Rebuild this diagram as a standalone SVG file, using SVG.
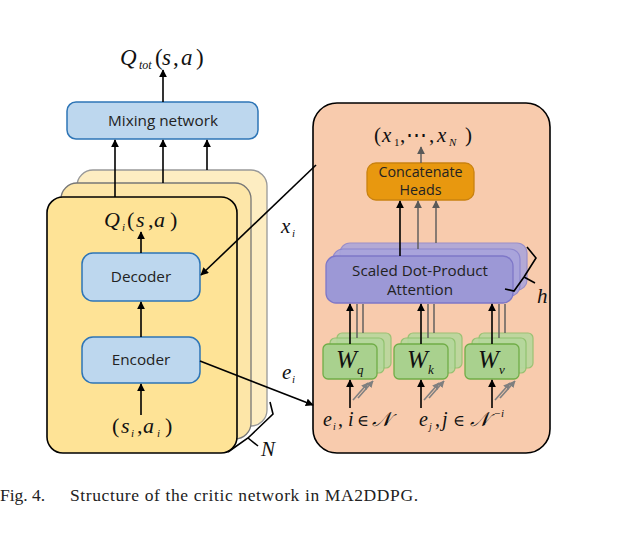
<svg xmlns="http://www.w3.org/2000/svg" width="620" height="536" viewBox="0 0 620 536">
<defs>
<marker id="ab" viewBox="0 0 10 10" refX="9" refY="5" markerWidth="8" markerHeight="8" markerUnits="userSpaceOnUse" orient="auto"><path d="M0,0 L10,5 L0,10 z" fill="#000"/></marker>
<marker id="ag" viewBox="0 0 10 10" refX="9" refY="5" markerWidth="8" markerHeight="8" markerUnits="userSpaceOnUse" orient="auto"><path d="M0,0 L10,5 L0,10 z" fill="#595959"/></marker>
<marker id="ag2" viewBox="0 0 10 10" refX="9" refY="5" markerWidth="7" markerHeight="7" markerUnits="userSpaceOnUse" orient="auto"><path d="M0,0 L10,5 L0,10 z" fill="#7f7f7f"/></marker>
<style>
.sans{font-family:"Open Sans","Noto Sans","DejaVu Sans",sans-serif;fill:#222;}
.math{font-family:"Liberation Serif","DejaVu Serif",serif;font-style:italic;fill:#111;}
.rm{font-style:normal;}
.blue{fill:#BDD7EE;stroke:#2E75B6;stroke-width:1.5;}
.green{fill:#A9D18E;stroke:#70AD47;stroke-width:1.3;}
.greenb{fill:#B5D89C;stroke:#8CC06A;stroke-width:1.2;}
.lav{fill:#9C98D6;stroke:#7E77C8;stroke-width:1.3;}
.lavb{fill:#A8A4DC;stroke:#8A84CE;stroke-width:1.2;}
.ln{stroke:#000;stroke-width:1.6;fill:none;}
.lg{stroke:#595959;stroke-width:1.4;fill:none;}
.lgd{stroke:#808080;stroke-width:1.6;fill:none;}
</style>
</defs>
<rect width="620" height="536" fill="#fff"/>

<g id="critic-cards">
<rect x="77" y="170" width="190" height="256" rx="16" fill="#FDEDC2" stroke="#999" stroke-width="1.3"/>
<rect x="61" y="183" width="190" height="256" rx="16" fill="#FDE6A8" stroke="#777" stroke-width="1.3"/>
<rect x="47" y="197" width="190" height="256" rx="16" fill="#FEE396" stroke="#000" stroke-width="1.6"/>
</g>

<g id="n-brace">
<path d="M270,402 L273,414 L248,438 L228,452" class="ln" stroke-width="1.4"/>
<path d="M248,438 L258,446" class="ln" stroke-width="1.4"/>
<text class="math" x="261" y="456" font-size="21">N</text>
</g>

<g id="q-tot" class="math" font-size="23">
<text x="120" y="65">Q</text>
<text x="139" y="69" font-size="12">tot</text>
<text x="155" y="65" class="rm">(</text>
<text x="162" y="65">s</text>
<text x="173" y="65" class="rm">,</text>
<text x="181" y="65">a</text>
<text x="196" y="65" class="rm">)</text>
</g>

<g id="mixing-network">
<rect class="blue" x="67" y="102" width="191" height="37" rx="9"/>
<text class="sans" x="163" y="126" font-size="15.3" text-anchor="middle">Mixing network</text>
</g>

<g id="q-i" class="math" font-size="22">
<text x="104" y="227">Q</text>
<text x="122" y="231" font-size="11">i</text>
<text x="127" y="227" class="rm">(</text>
<text x="136" y="227">s</text>
<text x="148" y="227" class="rm">,</text>
<text x="154" y="227">a</text>
<text x="170" y="227" class="rm">)</text>
</g>

<g id="decoder">
<rect class="blue" x="82" y="253" width="118" height="48" rx="11"/>
<text class="sans" x="141" y="282" font-size="15.3" text-anchor="middle">Decoder</text>
</g>

<g id="encoder">
<rect class="blue" x="82" y="337" width="118" height="46" rx="11"/>
<text class="sans" x="141" y="365" font-size="15.3" text-anchor="middle">Encoder</text>
</g>

<g id="s-a-input" class="math" font-size="22">
<text x="112" y="433" class="rm">(</text>
<text x="121" y="433">s</text>
<text x="131" y="437" font-size="11">i</text>
<text x="137" y="433" class="rm">,</text>
<text x="143" y="433">a</text>
<text x="157" y="437" font-size="11">i</text>
<text x="165" y="433" class="rm">)</text>
</g>

<g id="attention-panel">
<rect x="313" y="103" width="237" height="350" rx="24" fill="#F8CBAD" stroke="#000" stroke-width="1.6"/>
</g>

<g id="x-output" class="math" font-size="21">
<text x="374" y="142" class="rm">(</text>
<text x="382" y="142">x</text>
<text x="394" y="146" font-size="11" class="rm">1</text>
<text x="400" y="142" class="rm">,</text>
<text x="406" y="142" class="rm">⋯</text>
<text x="429" y="142" class="rm">,</text>
<text x="437" y="142">x</text>
<text x="449" y="146" font-size="11">N</text>
<text x="465" y="142" class="rm">)</text>
</g>

<g id="concatenate-heads">
<rect x="367" y="163" width="107" height="37" rx="9" fill="#E8980F" stroke="#C98210" stroke-width="1.3"/>
<text class="sans" x="420.5" y="177" font-size="14.3" text-anchor="middle">Concatenate</text>
<text class="sans" x="420.5" y="195" font-size="14.3" text-anchor="middle">Heads</text>
</g>

<g id="scaled-dot-product-attention">
<rect class="lavb" x="340" y="243" width="187" height="47" rx="10" opacity="0.85"/>
<rect class="lavb" x="333" y="249" width="187" height="47" rx="10" opacity="0.9"/>
<rect class="lav" x="326" y="256" width="187" height="47" rx="10"/>
<text class="sans" x="420" y="276" font-size="15.2" text-anchor="middle">Scaled Dot-Product</text>
<text class="sans" x="420" y="295" font-size="15.2" text-anchor="middle">Attention</text>
</g>

<g id="h-brace">
<path d="M527,247 L536,258 L524,277 L514,291 L505,289" class="ln" stroke-width="1.4"/>
<path d="M524,277 L535,283" class="ln" stroke-width="1.4"/>
<text class="math" x="537" y="303" font-size="21">h</text>
</g>

<g id="w-q">
<rect class="greenb" x="337" y="333" width="54" height="35" rx="5" opacity="0.85"/>
<rect class="greenb" x="330" y="338" width="54" height="35" rx="5" opacity="0.9"/>
<rect class="green" x="323" y="344" width="54" height="35" rx="5"/>
<text class="math" x="336" y="368" font-size="25">W</text>
<text class="math" x="357" y="374" font-size="13">q</text>
</g>

<g id="w-k">
<rect class="greenb" x="408" y="333" width="54" height="35" rx="5" opacity="0.85"/>
<rect class="greenb" x="401" y="338" width="54" height="35" rx="5" opacity="0.9"/>
<rect class="green" x="394" y="344" width="54" height="35" rx="5"/>
<text class="math" x="407" y="368" font-size="25">W</text>
<text class="math" x="428" y="374" font-size="13">k</text>
</g>

<g id="w-v">
<rect class="greenb" x="479" y="333" width="54" height="35" rx="5" opacity="0.85"/>
<rect class="greenb" x="472" y="338" width="54" height="35" rx="5" opacity="0.9"/>
<rect class="green" x="465" y="344" width="54" height="35" rx="5"/>
<text class="math" x="478" y="368" font-size="25">W</text>
<text class="math" x="499" y="374" font-size="13">v</text>
</g>

<g id="e-labels" class="math" font-size="20">
<text x="323" y="426">e</text>
<text x="333" y="430" font-size="10">i</text>
<text x="338" y="426" class="rm">,</text>
<text x="348" y="426">i</text>
<text x="357" y="426" class="rm" font-family="DejaVu Serif, serif" font-size="16">∈</text>
<text x="372" y="426">𝒩</text>
<text x="419" y="426">e</text>
<text x="429" y="430" font-size="10">j</text>
<text x="435" y="426" class="rm">,</text>
<text x="442" y="426">j</text>
<text x="453" y="426" class="rm" font-family="DejaVu Serif, serif" font-size="16">∈</text>
<text x="470" y="426">𝒩</text>
<text x="494" y="417" font-size="11" class="rm">−</text>
<text x="501" y="417" font-size="11">i</text>
</g>

<g id="x-i-label" class="math" font-size="21">
<text x="281" y="233">x</text>
<text x="292" y="237" font-size="11">i</text>
</g>
<g id="e-i-label" class="math" font-size="21">
<text x="282" y="379">e</text>
<text x="292" y="383" font-size="11">i</text>
</g>

<g id="connectors">
<line class="ln" x1="163" y1="102" x2="163" y2="70" marker-end="url(#ab)"/>
<line class="ln" x1="115" y1="197" x2="115" y2="140" marker-end="url(#ab)"/>
<line class="ln" x1="163" y1="183" x2="163" y2="140" marker-end="url(#ab)"/>
<line class="ln" x1="207" y1="170" x2="207" y2="140" marker-end="url(#ab)"/>
<line class="ln" x1="141" y1="253" x2="141" y2="232" marker-end="url(#ab)"/>
<line class="ln" x1="141" y1="337" x2="141" y2="302" marker-end="url(#ab)"/>
<line class="ln" x1="141" y1="415" x2="141" y2="384" marker-end="url(#ab)"/>
<line class="ln" x1="316" y1="165" x2="201" y2="275" marker-end="url(#ab)"/>
<line class="ln" x1="200" y1="361" x2="313" y2="405" marker-end="url(#ab)"/>

<line class="lg" x1="421" y1="163" x2="421" y2="147" marker-end="url(#ag)"/>
<line class="ln" x1="400" y1="256" x2="400" y2="201" marker-end="url(#ab)"/>
<line class="lg" x1="418" y1="249" x2="418" y2="201" marker-end="url(#ag)"/>
<line class="lg" x1="436" y1="243" x2="436" y2="201" marker-end="url(#ag)"/>

<line class="ln" x1="350" y1="344" x2="350" y2="304" marker-end="url(#ab)"/>
<line class="lg" x1="357" y1="338" x2="357" y2="304"/>
<line class="lg" x1="363" y1="333" x2="363" y2="304"/>
<line class="ln" x1="421" y1="344" x2="421" y2="304" marker-end="url(#ab)"/>
<line class="lg" x1="428" y1="338" x2="428" y2="304"/>
<line class="lg" x1="434" y1="333" x2="434" y2="304"/>
<line class="ln" x1="492" y1="344" x2="492" y2="304" marker-end="url(#ab)"/>
<line class="lg" x1="499" y1="338" x2="499" y2="304"/>
<line class="lg" x1="505" y1="333" x2="505" y2="304"/>

<line class="ln" x1="350" y1="408" x2="350" y2="380" marker-end="url(#ab)"/>
<line class="lgd" x1="353" y1="400" x2="368" y2="383" marker-end="url(#ag2)"/>
<line class="lgd" x1="358" y1="398" x2="373" y2="381" marker-end="url(#ag2)"/>
<line class="ln" x1="421" y1="408" x2="421" y2="380" marker-end="url(#ab)"/>
<line class="lgd" x1="424" y1="400" x2="439" y2="383" marker-end="url(#ag2)"/>
<line class="lgd" x1="429" y1="398" x2="444" y2="381" marker-end="url(#ag2)"/>
<line class="ln" x1="492" y1="408" x2="492" y2="380" marker-end="url(#ab)"/>
<line class="lgd" x1="495" y1="400" x2="510" y2="383" marker-end="url(#ag2)"/>
<line class="lgd" x1="500" y1="398" x2="515" y2="381" marker-end="url(#ag2)"/>
</g>

<g id="caption">
<text x="0" y="501" font-family="Liberation Serif, serif" font-size="17.5" fill="#222">Fig. 4.</text>
<text x="70" y="501" font-family="Liberation Serif, serif" font-size="17.5" fill="#222" textLength="348">Structure of the critic network in MA2DDPG.</text>
</g>
</svg>
